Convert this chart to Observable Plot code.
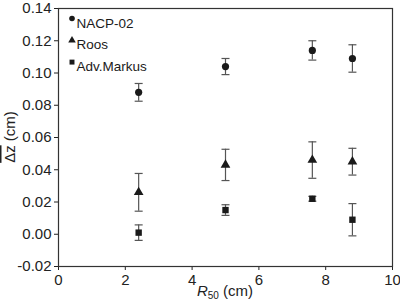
<!DOCTYPE html>
<html>
<head>
<meta charset="utf-8">
<script src="https://cdn.jsdelivr.net/npm/d3@7"></script>
<script src="https://cdn.jsdelivr.net/npm/@observablehq/plot@0.6"></script>
<style>
  html, body { margin: 0; padding: 0; background: #fff; }
  #chart { width: 400px; height: 301px; }
</style>
</head>
<body>
<div id="chart"></div>
<script>
// ---- data ----
const seriesNames = ["NACP-02", "Roos", "Adv.Markus"];
const seriesSymbols = ["circle", "triangle", "square"];
const r50 = [2.4, 5.0, 7.6, 8.8];
const nacp = [0.088, 0.104, 0.114, 0.109];
const nacpErr = [0.0055, 0.005, 0.006, 0.0085];
const roos = [0.026, 0.043, 0.046, 0.045];
const roosErr = [0.0117, 0.0097, 0.0113, 0.0083];
const markus = [0.001, 0.015, 0.022, 0.009];
const markusErr = [0.0048, 0.0033, 0.0015, 0.010];
const xTicks = [0, 2, 4, 6, 8, 10];
const yTicks = [-0.02, 0, 0.02, 0.04, 0.06, 0.08, 0.10, 0.12, 0.14];

const values = [nacp, roos, markus];
const errs = [nacpErr, roosErr, markusErr];
const rows = [];
values.forEach((vals, s) => vals.forEach((v, i) => rows.push({
  series: seriesNames[s], symbol: seriesSymbols[s], x: r50[i], y: v,
  lo: v - errs[s][i], hi: v + errs[s][i]
})));

const cap = { draw(ctx) { ctx.moveTo(-4, 0); ctx.lineTo(4, 0); } };
const ink = "#1a1a1a";
const barColor = "#555";

const legendMarks = [];
seriesNames.forEach((name, i) => {
  legendMarks.push(Plot.dot([name], {frameAnchor: "top-left", dx: 13.5, dy: 10 + 21.8 * i,
    symbol: () => seriesSymbols[i], r: 2.8, fill: ink, stroke: "none"}));
  legendMarks.push(Plot.text([name], {frameAnchor: "top-left", dx: 18, dy: 9.5 + 21.8 * i,
    text: d => d, textAnchor: "start", fill: ink, fontSize: 13.5}));
});

const plot = Plot.plot({
  width: 400, height: 301,
  marginLeft: 58, marginRight: 8, marginTop: 8, marginBottom: 35,
  style: {fontFamily: "'Liberation Sans', Arial, sans-serif", fontSize: "15px", color: "#222", background: "#fff"},
  x: {domain: [0, 10]},
  y: {domain: [-0.02, 0.14]},
  symbol: {domain: seriesNames, range: seriesSymbols},
  marks: [
    Plot.axisX({ticks: xTicks, tickSize: 4, tickPadding: 4, label: null, fontSize: 15}),
    Plot.axisY({ticks: yTicks, tickFormat: d => d.toFixed(2), tickSize: 4, tickPadding: 3, label: null, fontSize: 15}),
    Plot.frame({stroke: "#333", strokeWidth: 1.2}),
    Plot.ruleX(rows, {x: "x", y1: "lo", y2: "hi", stroke: barColor, strokeWidth: 1.2}),
    Plot.dot(rows, {x: "x", y: "lo", symbol: () => cap, stroke: barColor, strokeWidth: 1.2}),
    Plot.dot(rows, {x: "x", y: "hi", symbol: () => cap, stroke: barColor, strokeWidth: 1.2}),
    Plot.dot(rows, {x: "x", y: "y", symbol: "series", r: 3.6, fill: ink, stroke: "none"}),
    ...legendMarks
  ]
});
document.getElementById("chart").appendChild(plot);

// axis titles
const svg = d3.select(plot);
const ys = plot.scale("y").range;
const xt = svg.append("text")
  .attr("x", 225).attr("y", 296)
  .attr("text-anchor", "middle").attr("fill", "#222")
  .style("font-size", "15px");
xt.append("tspan").attr("font-style", "italic").text("R");
xt.append("tspan").style("font-size", "10px").attr("dy", 3).text("50");
xt.append("tspan").attr("dy", -3).text(" (cm)");

const yt = svg.append("text")
  .attr("transform", `translate(15,${(ys[0] + ys[1]) / 2}) rotate(-90)`)
  .attr("text-anchor", "middle").attr("fill", "#222")
  .style("font-size", "15px");
yt.append("tspan").style("text-decoration", "overline").text("Δz");
yt.append("tspan").text(" (cm)");
</script>
</body>
</html>
